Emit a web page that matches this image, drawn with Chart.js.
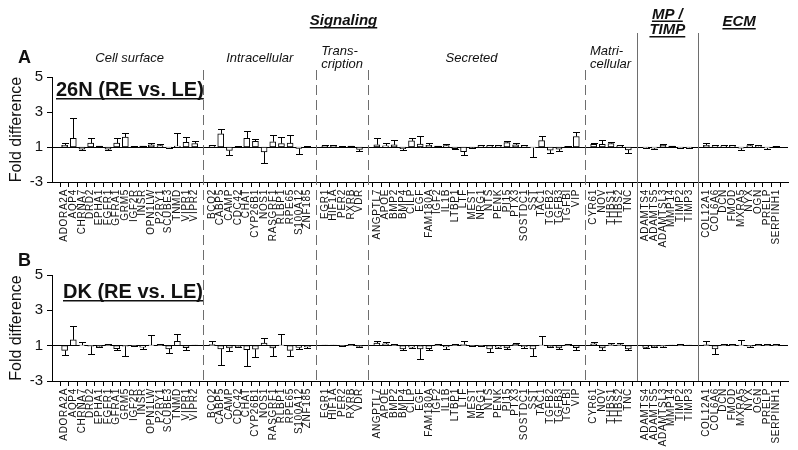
<!DOCTYPE html>
<html><head><meta charset="utf-8">
<script src="https://cdn.jsdelivr.net/npm/chart.js@4.4.1/dist/chart.umd.min.js"></script>
<style>
html,body{margin:0;padding:0;background:#fff;}
#wrap{position:relative;width:798px;height:450px;overflow:hidden;background:#fff;}
.box{position:absolute;left:0;width:798px;}
</style></head><body>
<div id="wrap">
  <div class="box" style="top:0;height:262px"><canvas id="cA"></canvas></div>
  <div class="box" style="top:245px;height:205px"><canvas id="cB"></canvas></div>
</div>
<script>
// ---------- DATA ----------
const cellSurface   = ['ADORA2A','AQP4','CHRNA7','DRD2','EPHA1','FGFR1','GFRA1','GRM5','IGF2R','INSR','OPN1LW','P2RY1','SCUBE3','TNMD','VIPR1','VIPR2'];
const intracellular = ['BCO2','CABP5','CAMP','CDC42','CHAT','CYP26B1','NOS1','RASGRF1','RLBP1','RPE65','S100A12','ZNF185'];
const transcription = ['EGR1','HIF1A','PER2','RXRB','VDR'];
const secreted      = ['ANGPTL7','APOE','BMP2','BMP4','CILP','EGF','FAM180A','IGF2','IL1B','LTBP1','LTF','MEST','NRG1','NTS','PENK','PI15','PTX3','SOSTDC1','SST','TAC1','TGFB2','TGFB3','TGFBI','VIP'];
const matricellular = ['CYR61','NOV','THBS1','THBS2','TNC'];
const mpTimp        = ['ADAMTS4','ADAMTS5','ADAMTSL3','MMP14','TIMP2','TIMP3'];
const ecm           = ['COL12A1','COL6A6','DCN','FMOD','MXRA5','NYX','OGN','PRELP','SERPINH1'];

const groupTitles = [['Cell surface'],['Intracellular'],['Trans-','cription'],['Secreted'],['Matri-','cellular'],['MP /','TIMP'],['ECM']];
const yTickLabels = [5, 3, 1, -3];

// Panel A: 26N (RE vs. LE) fold difference and error (SEM)
const foldA = [
  1.1, 1.5, -1.12, 1.22, 1.05, -1.12, 1.22, 1.57, 1.04, 1.05, 1.12, 1.08, -1.05, 1.05, 1.27, 1.2,
  1.08, 1.75, -1.2, 1.04, 1.5, 1.33, -1.28, 1.3, 1.2, 1.22, -1.08, 1.04,
  1.06, 1.06, 1.03, 1.05, -1.14,
  1.13, 1.07, 1.12, -1.1, 1.35, 1.17, 1.1, 1.05, 1.08, -1.09, -1.27, -1.03, 1.08, 1.08, 1.08, 1.25, 1.12, 1.07, -1.04, 1.36, -1.18, -1.12, 1.04, 1.6,
  1.15, 1.15, 1.2, 1.07, -1.17,
  -1.04, -1.07, 1.1, 1.05, -1.05, -1.04,
  1.1, 1.07, 1.07, 1.07, -1.07, 1.08, 1.04, -1.05, 1.03
];
const errA = [
  0.12, 1.15, 0.05, 0.28, 0.03, 0.06, 0.28, 0.21, 0.02, 0.03, 0.13, 0.12, 0.03, 0.75, 0.32, 0.12,
  0.04, 0.3, 0.24, 0.02, 0.4, 0.13, 0.65, 0.38, 0.37, 0.45, 0.3, 0.02,
  0.04, 0.04, 0.02, 0.03, 0.06,
  0.37, 0.15, 0.28, 0.05, 0.15, 0.48, 0.13, 0.03, 0.1, 0.05, 0.17, 0.02, 0.05, 0.04, 0.04, 0.12, 0.1, 0.05, 0.52, 0.29, 0.14, 0.12, 0.03, 0.25,
  0.1, 0.26, 0.08, 0.05, 0.2,
  0.03, 0.05, 0.09, 0.03, 0.03, 0.02,
  0.14, 0.05, 0.05, 0.04, 0.08, 0.07, 0.05, 0.05, 0.02
];
// Panel B: DK (RE vs. LE)
const foldB = [
  -1.27, 1.33, 1.03, -1.03, -1.05, 1.07, -1.17, -1.03, -1.02, -1.08, 1.03, 1.06, -1.18, 1.25, -1.12, 1.04,
  1.06, -1.19, -1.13, -1.06, -1.22, -1.2, 1.15, -1.13, 1.03, -1.27, -1.1, -1.07,
  1.04, 1.04, -1.03, 1.05, -1.04,
  1.14, 1.1, 1.07, -1.18, -1.08, -1.18, -1.17, 1.05, -1.07, 1.05, 1.06, -1.02, -1.02, -1.18, -1.08, -1.13, 1.07, -1.05, -1.18, 1.03, -1.05, -1.13, 1.05, -1.12,
  1.1, -1.13, 1.05, 1.05, -1.19,
  -1.1, -1.05, -1.03, 1.04, 1.06, 1.04,
  1.05, -1.19, 1.05, 1.05, 1.03, -1.03, 1.05, 1.05, 1.05
];
const errB = [
  0.24, 0.77, 0.2, 0.42, 0.03, 0.02, 0.08, 0.58, 0.02, 0.1, 0.55, 0.05, 0.23, 0.43, 0.14, 0.02,
  0.18, 0.88, 0.2, 0.04, 0.95, 0.45, 0.28, 0.44, 0.65, 0.34, 0.09, 0.06,
  0.02, 0.02, 0.01, 0.02, 0.02,
  0.15, 0.1, 0.05, 0.05, 0.05, 0.58, 0.06, 0.02, 0.12, 0.03, 0.19, 0.02, 0.02, 0.2, 0.04, 0.06, 0.08, 0.08, 0.42, 0.5, 0.03, 0.06, 0.06, 0.14,
  0.09, 0.14, 0.1, 0.08, 0.08,
  0.03, 0.03, 0.03, 0.02, 0.02, 0.02,
  0.2, 0.26, 0.03, 0.03, 0.27, 0.02, 0.03, 0.03, 0.02
];

// ---------- LAYOUT HELPERS ----------
const FF = "'Liberation Sans', Arial, sans-serif";
const groupLists = [cellSurface, intracellular, transcription, secreted, matricellular, mpTimp, ecm];
const slotLabels = [], catSlot = [], gapSlots = [], groupRanges = [];
groupLists.forEach((g, gi) => {
  if (gi > 0) { gapSlots.push(slotLabels.length); slotLabels.push(''); }
  const start = slotLabels.length;
  g.forEach(n => { catSlot.push(slotLabels.length); slotLabels.push(n); });
  groupRanges.push([start, slotLabels.length - 1]);
});
// fold difference axis: values <= -1 are shifted so that -1 and 1 coincide
const fd = v => (v >= 1 ? v : v + 2);

function underlineText(ctx, txt, x, y, uy, align) {
  ctx.textAlign = align || 'left';
  ctx.fillText(txt, x, y);
  const w = ctx.measureText(txt).width;
  const x0 = align === 'center' ? x - w / 2 : x;
  ctx.fillRect(x0, uy, w, 1.5);
}

function makeChart(canvas, folds, errs, cfg) {
  const data = catSlot.map((s, i) => ({ x: s, y: [1, fd(folds[i])] }));
  const spacingPlugin = {
    id: 'labelSpacing',
    afterLayout(chart) {
      const s = chart.scales.x;
      if (s && !s._spaced) {
        const orig = s.drawLabels.bind(s);
        s.drawLabels = function (area) {
          const c = this.ctx; c.save();
          try { c.letterSpacing = '0.7px'; } catch (e) {}
          orig(area); c.restore();
        };
        s._spaced = true;
      }
    }
  };
  const errPlugin = {
    id: 'errbars',
    afterDatasetsDraw(chart) {
      const { ctx } = chart, xs = chart.scales.x, ys = chart.scales.y;
      ctx.save(); ctx.strokeStyle = '#000'; ctx.lineWidth = 1;
      folds.forEach((v, i) => {
        const e = errs[i];
        const end = v >= 1 ? v + e : v - e;
        const px = Math.round(xs.getPixelForValue(catSlot[i])) + 0.5;
        const y0 = ys.getPixelForValue(fd(v));
        const y1 = Math.round(ys.getPixelForValue(fd(end))) + 0.5;
        ctx.beginPath();
        ctx.moveTo(px, y0); ctx.lineTo(px, y1);
        ctx.moveTo(px - 3.5, y1); ctx.lineTo(px + 3.5, y1);
        ctx.stroke();
      });
      ctx.restore();
    }
  };
  const dividerPlugin = {
    id: 'dividers',
    afterDraw(chart) {
      const { ctx } = chart, xs = chart.scales.x;
      ctx.save(); ctx.lineWidth = 1; ctx.strokeStyle = '#6e6e6e';
      gapSlots.forEach((g, k) => {
        const px = Math.round(xs.getPixelForValue(g)) + 0.5;
        const dashed = k < 4;
        const top = dashed ? cfg.dashTop : cfg.solidTop;
        const bottom = cfg.lineBottom(chart);
        ctx.setLineDash(dashed ? [10, 5] : []);
        ctx.lineDashOffset = dashed ? cfg.dashOffset : 0;
        ctx.beginPath(); ctx.moveTo(px, top); ctx.lineTo(px, bottom); ctx.stroke();
      });
      ctx.restore();
    }
  };
  const textPlugin = {
    id: 'texts',
    afterDraw(chart) { cfg.drawTexts(chart); }
  };
  return new Chart(canvas, {
    type: 'bar',
    data: { datasets: [{ data, backgroundColor: '#fff', borderColor: '#000', borderWidth: 1, borderSkipped: false, barThickness: 6 }] },
    plugins: [spacingPlugin, dividerPlugin, errPlugin, textPlugin],
    options: {
      animation: false, responsive: true, maintainAspectRatio: false,
      layout: { padding: { top: cfg.padTop, right: 10, left: 0, bottom: 0 } },
      plugins: { legend: { display: false }, tooltip: { enabled: false } },
      scales: {
        x: {
          type: 'linear', min: -0.945, max: 82.9,
          afterBuildTicks: s => { s.ticks = slotLabels.map((_, i) => ({ value: i })); },
          afterFit: s => { s.height = cfg.xHeight; },
          ticks: { autoSkip: false, minRotation: 90, maxRotation: 90, padding: 2, color: '#111',
                   font: { family: FF, size: 10 }, callback: v => slotLabels[Math.round(v)] || '' },
          grid: { drawOnChartArea: false, tickLength: 5, tickColor: '#000', color: '#000' },
          border: { color: '#000', width: 1 }
        },
        y: {
          min: -1, max: 5,
          afterBuildTicks: s => { s.ticks = yTickLabels.map(v => ({ value: fd(v) })); },
          afterFit: s => { s.width = 52; },
          ticks: { color: '#111', padding: 4, font: { family: FF, size: 15 },
                   callback: v => String(v < 1 ? v - 2 : v) },
          grid: { color: c => (c.tick && c.tick.value === 1 ? '#000' : 'rgba(0,0,0,0)'),
                  tickColor: '#000', tickLength: 5, lineWidth: 1 },
          border: { color: '#000', width: 1 },
          title: { display: true, text: 'Fold difference', color: '#111',
                   font: { family: FF, size: 16 }, padding: { top: 7, bottom: 0 } }
        }
      }
    }
  });
}

// ---------- PANEL A ----------
makeChart(document.getElementById('cA'), foldA, errA, {
  padTop: 77, xHeight: 80, dashTop: 70, solidTop: 33, dashOffset: 0,
  lineBottom: chart => chart.height,
  drawTexts(chart) {
    const { ctx } = chart, xs = chart.scales.x;
    const cx = (a, b) => (xs.getPixelForValue(a) + xs.getPixelForValue(b)) / 2;
    const shift = [0, 0, 0, -5, 0];
    ctx.save(); ctx.fillStyle = '#111'; ctx.textBaseline = 'alphabetic';
    // subgroup titles
    ctx.font = 'italic 13px ' + FF;
    groupRanges.slice(0, 5).forEach((r, i) => {
      const t = groupTitles[i], c = cx(r[0], r[1]) + shift[i];
      if (t.length === 1) { ctx.textAlign = 'center'; ctx.fillText(t[0], c, 62); }
      else { ctx.textAlign = 'left'; ctx.fillText(t[0], c - 21, 55); ctx.fillText(t[1], c - 21, 68); }
    });
    // main titles
    ctx.font = 'bold italic 15px ' + FF;
    underlineText(ctx, 'Signaling', cx(groupRanges[0][0], groupRanges[4][1]) - 3, 25, 27, 'center');
    const mp = cx(groupRanges[5][0], groupRanges[5][1]);
    underlineText(ctx, groupTitles[5][0], mp, 18.5, 20.5, 'center');
    underlineText(ctx, groupTitles[5][1], mp, 34, 36, 'center');
    underlineText(ctx, groupTitles[6][0], cx(groupRanges[6][0], groupRanges[6][1]) - 2, 26, 28, 'center');
    // panel label
    ctx.font = 'bold 18px ' + FF; ctx.textAlign = 'left';
    ctx.fillText('A', 18, 63);
    ctx.font = 'bold 20px ' + FF;
    underlineText(ctx, '26N (RE vs. LE)', 56, 96, 98, 'left');
    ctx.restore();
  }
});

// ---------- PANEL B ----------
makeChart(document.getElementById('cB'), foldB, errB, {
  padTop: 30, xHeight: 69, dashTop: 17, solidTop: 17, dashOffset: 192,
  lineBottom: chart => chart.chartArea.bottom,
  drawTexts(chart) {
    const { ctx } = chart;
    ctx.save(); ctx.fillStyle = '#111'; ctx.textBaseline = 'alphabetic';
    ctx.font = 'bold 18px ' + FF; ctx.textAlign = 'left';
    ctx.fillText('B', 18, 21);
    ctx.font = 'bold 20px ' + FF;
    underlineText(ctx, 'DK (RE vs. LE)', 63, 53, 55, 'left');
    ctx.restore();
  }
});
</script>
</body></html>
